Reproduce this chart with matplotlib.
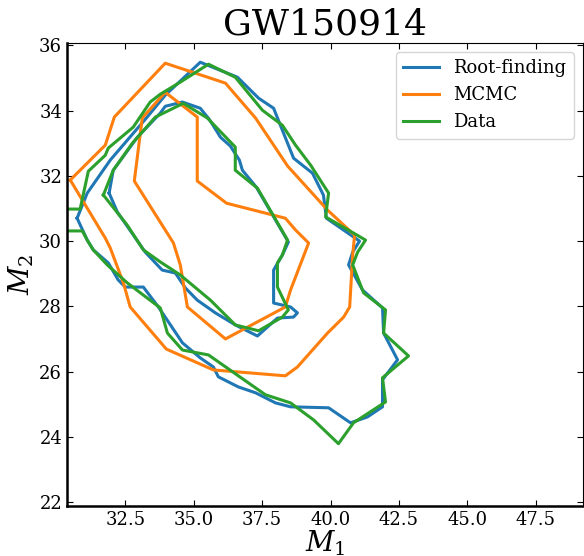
import matplotlib
matplotlib.use("Agg")
import matplotlib.pyplot as plt

plt.rcParams['font.family'] = 'DejaVu Serif'
plt.rcParams['mathtext.fontset'] = 'dejavuserif'

# Root-finding contours (outer / inner)
rf_outer_x = [30.74, 31.11, 31.95, 33.30, 33.96, 34.62, 35.24, 36.60, 37.37, 37.92, 38.43, 38.65,
              39.34, 39.74, 39.85, 41.06, 40.81, 40.66, 41.17, 41.90, 41.94, 42.45, 41.90, 41.90,
              41.35, 40.73, 39.93, 38.54, 37.99, 37.26, 36.63, 35.90, 35.72, 35.24, 34.59, 33.71,
              33.16, 32.50, 32.24, 31.88, 31.33, 31.11, 30.74]
rf_outer_y = [30.70, 31.47, 32.48, 33.80, 34.47, 34.99, 35.48, 35.02, 34.38, 34.07, 33.00, 32.54,
              32.08, 31.41, 30.70, 30.00, 29.66, 29.27, 28.50, 27.95, 27.18, 26.36, 25.75, 24.92,
              24.61, 24.43, 24.89, 24.92, 25.04, 25.35, 25.53, 25.84, 26.14, 26.42, 26.88, 27.98,
              28.59, 28.59, 28.81, 29.33, 29.73, 30.03, 30.70]
rf_inner_x = [31.91, 32.06, 32.94, 33.78, 33.96, 34.59, 35.24, 35.57, 35.98, 36.34, 36.67, 36.78,
              37.29, 38.46, 38.24, 37.92, 37.92, 38.54, 38.79, 38.65, 38.06, 37.33, 36.52, 35.79,
              35.13, 34.70, 34.33, 33.85, 33.23, 32.21, 31.91]
rf_inner_y = [31.47, 32.17, 33.18, 33.92, 34.13, 34.26, 34.07, 33.73, 33.18, 32.91, 32.48, 32.17,
              31.65, 29.97, 29.57, 29.11, 28.10, 27.98, 27.80, 27.67, 27.64, 27.09, 27.43, 27.80,
              28.19, 28.56, 29.02, 29.11, 29.66, 30.89, 31.47]

# MCMC contours
mc_outer_x = [30.49, 31.77, 32.10, 33.96, 36.16, 37.26, 38.43, 39.89, 40.88, 40.81, 40.70, 40.48,
              39.89, 38.79, 38.35, 35.72, 34.00, 32.68, 32.43, 31.95, 31.77, 30.49]
mc_outer_y = [31.87, 32.94, 33.80, 35.45, 34.84, 33.77, 32.30, 30.95, 30.18, 29.57, 27.98, 27.67,
              27.18, 26.14, 25.87, 26.05, 26.69, 27.98, 28.72, 29.79, 30.09, 31.87]
mc_inner_x = [33.96, 35.13, 35.13, 36.20, 38.35, 38.72, 39.20, 38.54, 38.35, 36.16, 34.77, 34.51,
              34.26, 32.83, 33.12, 33.96]
mc_inner_y = [34.56, 33.80, 31.84, 31.16, 30.70, 30.34, 29.94, 28.50, 27.98, 27.00, 27.98, 29.27,
              29.94, 31.84, 33.77, 34.56]

# Data contours
dt_outer_x = [30.12, 30.85, 31.15, 31.77, 31.88, 32.79, 33.41, 33.78, 34.51, 35.54, 36.52, 37.51,
              38.24, 38.72, 39.27, 39.93, 39.82, 41.28, 40.99, 40.81, 41.21, 42.01, 41.94, 42.85,
              41.90, 42.01, 40.84, 40.29, 39.38, 38.54, 37.62, 35.54, 34.59, 34.04, 33.78, 32.57,
              31.84, 31.33, 31.11, 30.93, 30.12]
dt_outer_y = [30.98, 30.98, 32.14, 32.63, 32.85, 33.49, 34.26, 34.50, 34.87, 35.42, 35.02, 34.01,
              33.55, 32.94, 32.33, 31.47, 30.74, 30.03, 29.66, 29.27, 28.41, 27.89, 27.18, 26.48,
              25.81, 25.07, 24.43, 23.79, 24.52, 25.04, 25.29, 26.51, 26.66, 27.18, 27.95, 28.72,
              29.27, 29.73, 30.03, 30.31, 30.31]
dt_inner_x = [31.70, 32.06, 32.76, 33.60, 34.62, 35.50, 36.52, 36.52, 37.33, 38.43, 38.24, 38.06,
              38.06, 38.46, 38.24, 37.37, 36.52, 35.61, 34.51, 33.78, 33.16, 32.57, 31.70]
dt_inner_y = [31.41, 32.17, 33.00, 33.80, 34.22, 33.77, 32.88, 32.17, 31.62, 30.03, 29.57, 29.33,
              28.59, 27.89, 27.67, 27.25, 27.43, 28.19, 28.96, 29.36, 29.73, 30.49, 31.41]

fig = plt.figure(figsize=(5.84, 5.56), dpi=100)
ax = fig.add_axes([0.1147, 0.0899, 0.8833, 0.8328])

lw = 2.2
ax.plot(rf_outer_x, rf_outer_y, color='C0', lw=lw, label='Root-finding')
ax.plot(rf_inner_x, rf_inner_y, color='C0', lw=lw)
ax.plot(mc_outer_x, mc_outer_y, color='C1', lw=lw, label='MCMC')
ax.plot(mc_inner_x, mc_inner_y, color='C1', lw=lw)
ax.plot(dt_outer_x, dt_outer_y, color='C2', lw=lw, label='Data')
ax.plot(dt_inner_x, dt_inner_y, color='C2', lw=lw)

ax.set_xlim(30.37, 49.22)
ax.set_ylim(21.88, 36.07)
ax.set_xticks([32.5, 35.0, 37.5, 40.0, 42.5, 45.0, 47.5])
ax.set_yticks([22, 24, 26, 28, 30, 32, 34, 36])
ax.tick_params(direction='in', top=True, right=True, labelsize=13, length=4)
ax.spines['left'].set_linewidth(1.8)
ax.spines['bottom'].set_linewidth(1.8)

ax.set_title('GW150914', fontsize=26)
ax.set_xlabel('$M_1$', fontsize=20, labelpad=0)
ax.set_ylabel('$M_2$', fontsize=20, labelpad=2)
ax.legend(loc='upper right', fontsize=13)

fig.savefig('out.png', dpi=100)
